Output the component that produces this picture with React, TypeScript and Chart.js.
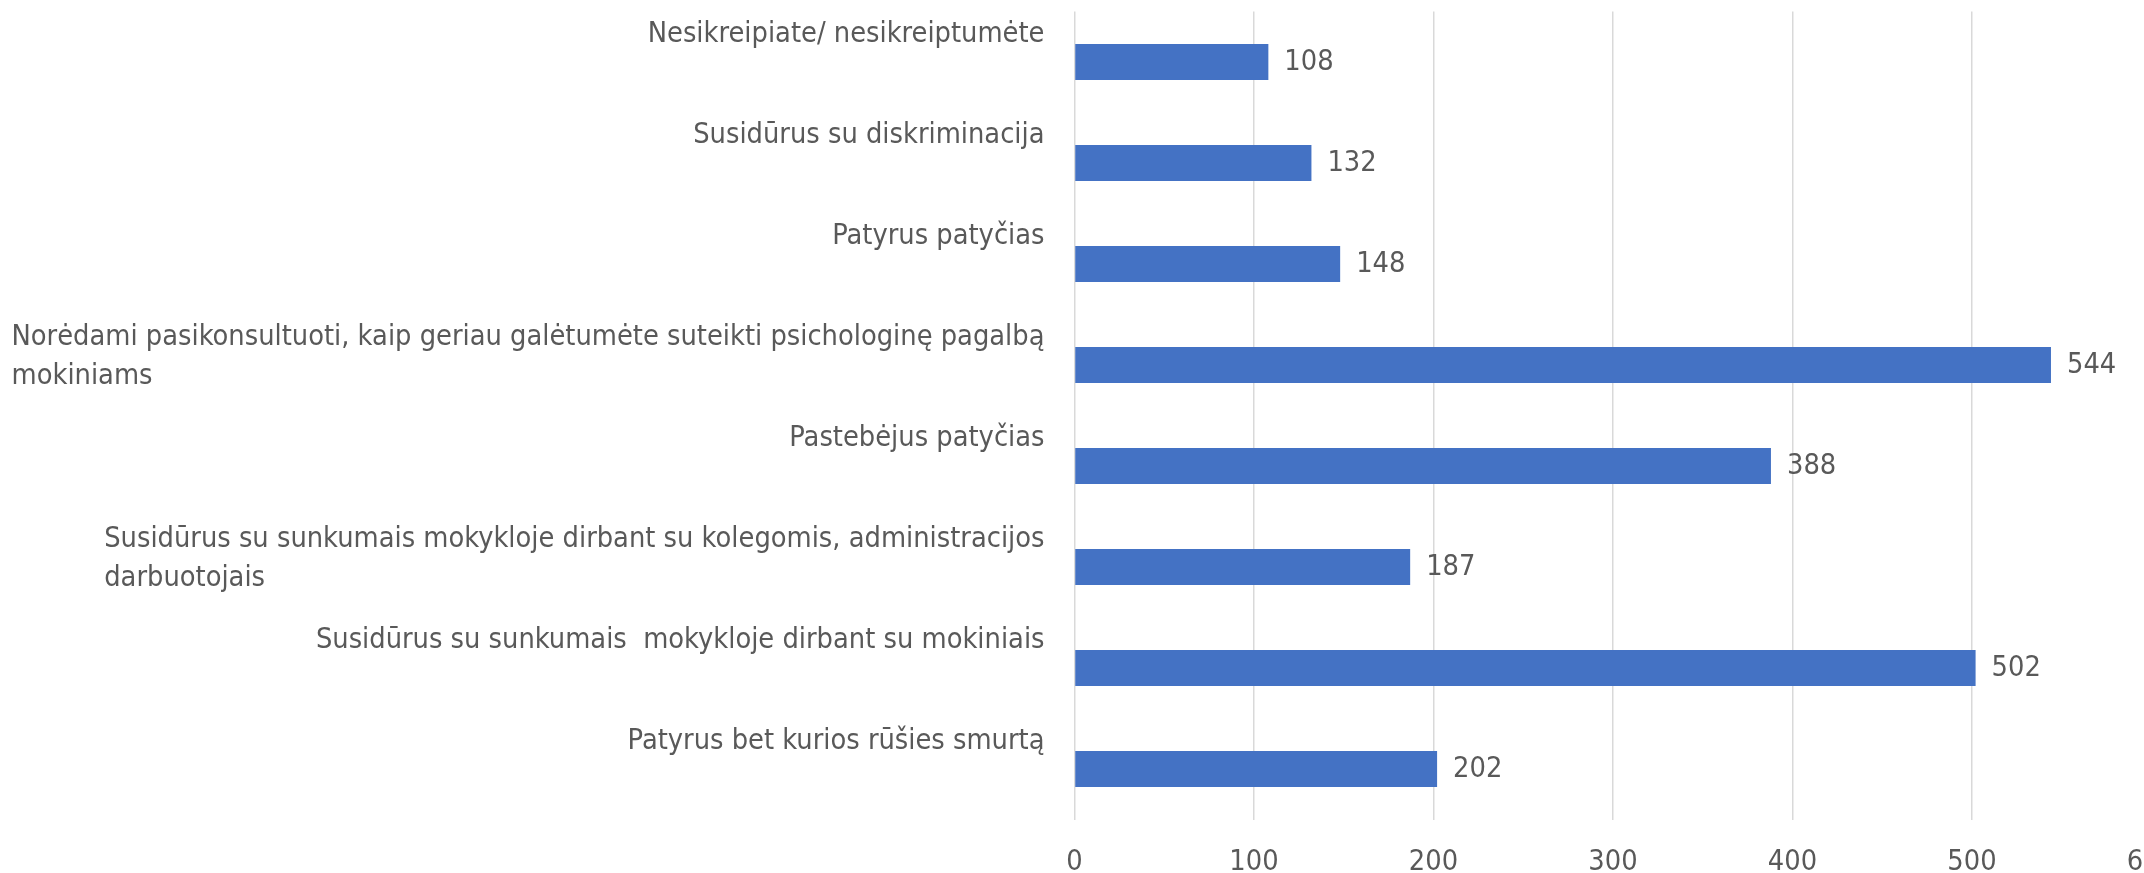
import React, { useEffect, useRef } from "react";
import { Chart, registerables } from "chart.js";

Chart.register(...registerables);

// ---- Data ----
const categories: (string | string[])[] = [
  "Nesikreipiate/ nesikreiptumėte",
  "Susidūrus su diskriminacija",
  "Patyrus patyčias",
  ["Norėdami pasikonsultuoti, kaip geriau galėtumėte suteikti psichologinę pagalbą", "mokiniams"],
  "Pastebėjus patyčias",
  ["Susidūrus su sunkumais mokykloje dirbant su kolegomis, administracijos", "darbuotojais"],
  "Susidūrus su sunkumais  mokykloje dirbant su mokiniais",
  "Patyrus bet kurios rūšies smurtą",
];
const values: number[] = [108, 132, 148, 544, 388, 187, 502, 202];
const xMin = 0;
const xMax = 600;
const xStep = 100;

// ---- Styling ----
const FONT = "'Liberation Sans Narrow', 'DejaVu Sans Condensed', 'Liberation Sans', sans-serif";
const TEXT = "#595959";
const BAR = "#4472C4";
const GRID = "#D9D9D9";
const FONT_SIZE = 28.7;
const LINE_H = 38.5;

const valueLabels = {
  id: "valueLabels",
  afterDatasetsDraw(chart: any) {
    const ctx = chart.ctx;
    const meta = chart.getDatasetMeta(0);
    ctx.save();
    ctx.font = `${FONT_SIZE}px ${FONT}`;
    ctx.fillStyle = TEXT;
    ctx.textAlign = "left";
    ctx.textBaseline = "middle";
    meta.data.forEach((bar: any, i: number) => {
      const v = chart.data.datasets[0].data[i];
      ctx.fillText(String(v), bar.x + 16, bar.y + 1);
    });
    ctx.restore();
  },
};

// category labels: block right-aligned to the axis, lines left-aligned within block,
// first line sitting above the bar
const categoryLabels = {
  id: "categoryLabels",
  afterDraw(chart: any) {
    const ctx = chart.ctx;
    const yScale = chart.scales.y;
    const right = chart.chartArea.left - 30;
    ctx.save();
    ctx.font = `${FONT_SIZE}px ${FONT}`;
    ctx.fillStyle = TEXT;
    ctx.textAlign = "left";
    ctx.textBaseline = "middle";
    (chart.data.labels as any[]).forEach((l: any, i: number) => {
      const lines: string[] = Array.isArray(l) ? l : [l];
      const c = yScale.getPixelForTick(i);
      const blockW = Math.max(...lines.map((s) => ctx.measureText(s).width));
      const x0 = right - blockW;
      lines.forEach((s, k) => {
        ctx.fillText(s, x0, c - 27 + k * LINE_H);
      });
    });
    ctx.restore();
  },
};

export default function App() {
  const ref = useRef<HTMLCanvasElement | null>(null);

  useEffect(() => {
    if (!ref.current) return;
    const chart = new Chart(ref.current, {
      type: "bar",
      data: {
        labels: categories,
        datasets: [
          {
            data: values,
            backgroundColor: BAR,
            borderWidth: 0,
            barPercentage: 0.356,
            categoryPercentage: 1,
          },
        ],
      },
      options: {
        indexAxis: "y",
        responsive: false,
        animation: false,
        devicePixelRatio: 1,
        layout: { padding: { top: 11.5, right: 48.5, bottom: 0, left: 1074.5 } },
        plugins: {
          legend: { display: false },
          tooltip: { enabled: false },
          title: { display: false },
        },
        scales: {
          x: {
            min: xMin,
            max: xMax,
            ticks: {
              stepSize: xStep,
              color: TEXT,
              padding: 25,
              font: { family: FONT, size: FONT_SIZE, lineHeight: 1.24 },
              maxRotation: 0,
            },
            grid: { color: GRID, lineWidth: 1.5, drawTicks: false },
            border: { display: false },
            afterFit: (scale: any) => {
              scale.height = 53.5;
              scale.paddingLeft = 0;
              scale.paddingRight = 0;
            },
          },
          y: {
            grid: { display: false, drawTicks: false },
            border: { display: false },
            ticks: { display: false },
            afterFit: (scale: any) => {
              scale.width = 0;
              scale.paddingTop = 0;
              scale.paddingBottom = 0;
            },
          },
        },
      },
      plugins: [valueLabels, categoryLabels],
    });
    return () => chart.destroy();
  }, []);

  return (
    <div
      style={{
        position: "fixed",
        left: 0,
        top: 0,
        width: 2144,
        height: 873,
        overflow: "hidden",
        background: "#fff",
      }}
    >
      <canvas ref={ref} width={2200} height={873} style={{ width: 2200, height: 873, display: "block" }} />
    </div>
  );
}
